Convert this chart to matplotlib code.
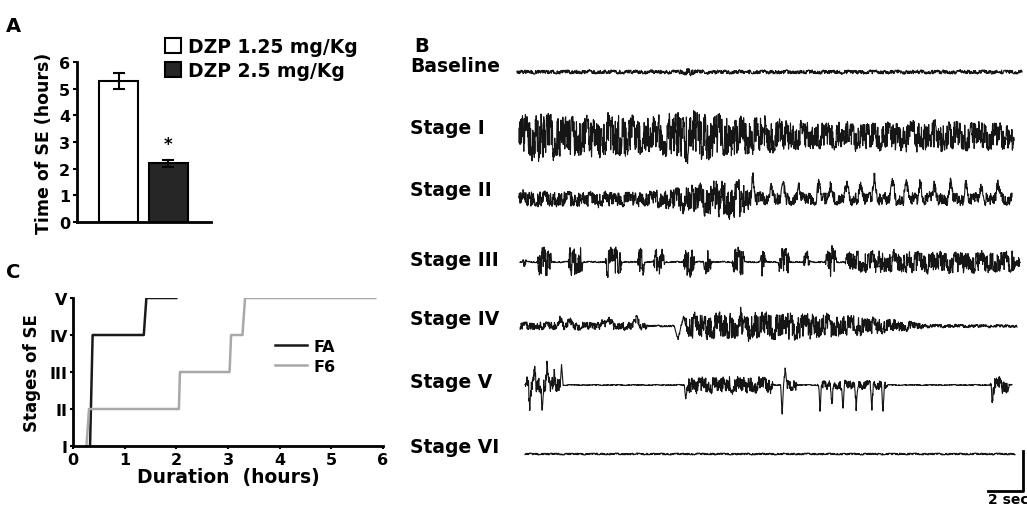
import numpy as np
import matplotlib.pyplot as plt

W, H = 1027, 506
plt.rcParams['font.family'] = ['DejaVu Sans']
plt.rcParams['font.weight'] = 'bold'
plt.rcParams['axes.labelweight'] = 'bold'

# ---------------- panel A : time of SE
groups = ['DZP 1.25 mg/Kg', 'DZP 2.5 mg/Kg']
se_time = [5.3, 2.2]
se_err = [0.3, 0.12]
bar_x = [0.31, 0.68]
bar_colors = ['white', '#262626']

# ---------------- panel C : stages over time
fa_t = [0.33, 0.38, 1.37, 1.42, 2.0]
fa_stage = [1, 4, 4, 5, 5]
f6_t = [0.26, 0.31, 2.05, 2.07, 3.03, 3.06, 3.28, 3.33, 5.85]
f6_stage = [1, 2, 2, 3, 3, 4, 4, 5, 5]
stage_names = ['I', 'II', 'III', 'IV', 'V']

# ---------------- panel B : EEG traces (positions in px, envelopes)
row_names = ['Baseline', 'Stage I', 'Stage II', 'Stage III', 'Stage IV', 'Stage V', 'Stage VI']
label_y = [66, 128, 191, 261, 320, 383, 448]
trace_y = [73, 137, 200, 263, 327, 386, 455]
trace_start = [517, 519, 519, 520, 520, 525, 525]
trace_end = [1022, 1014, 1012, 1020, 1017, 1012, 1015]

# envelope knots (fraction of trace, half amplitude px)
base_x = [0, 0.32, 0.34, 0.36, 1]
base_a = [2.2, 2.2, 4.5, 2.2, 2.2]
s1_x = [0, 0.04, 0.08, 0.15, 0.2, 0.25, 0.3, 0.32, 0.38, 0.42, 0.5, 0.55, 0.65, 0.75, 0.85, 0.95, 1]
s1_a = [22, 28, 24, 22, 25, 20, 22, 29, 27, 23, 20, 16, 15, 16, 17, 16, 14]
s2_x = [0, 0.25, 0.3, 0.35, 0.43, 0.45, 0.47, 0.5, 1]
s2_a = [9, 8, 11, 16, 22, 20, 10, 7, 7]
s4_x = [0, 0.25, 0.26, 0.31, 0.33, 0.34, 0.45, 0.56, 0.7, 0.79, 0.82, 1]
s4_a = [4.5, 4.5, 1, 1, 3, 14, 16, 15, 10, 5, 2, 1.5]
s6_x = [0, 1]
s6_a = [1.0, 1.0]

# bursts (start, end, half amplitude)
s3_bursts = [(0.004, 0.014, 6), (0.034, 0.064, 17), (0.096, 0.126, 17), (0.17, 0.204, 17),
             (0.234, 0.25, 16), (0.266, 0.29, 14), (0.326, 0.35, 17), (0.366, 0.384, 14),
             (0.424, 0.45, 17), (0.48, 0.494, 15), (0.516, 0.54, 16), (0.566, 0.58, 14),
             (0.61, 0.634, 17), (0.65, 1.0, 12)]
s5_bursts = [(0.0, 0.075, 9), (0.33, 0.51, 9), (0.53, 0.56, 6), (0.6, 0.745, 5), (0.955, 0.995, 9)]

# spikes (position, height px)
s2_spk = [(0.475, 23), (0.511, 16), (0.536, 14), (0.568, 12), (0.608, 16), (0.632, 15),
          (0.665, 14), (0.693, 17), (0.721, 26), (0.758, 18), (0.786, 15), (0.814, 17),
          (0.842, 15), (0.875, 16), (0.907, 15), (0.939, 14), (0.972, 16)]
s4_spk = [(0.08, 7), (0.1, 5), (0.167, 7), (0.18, 6), (0.235, 8), (0.318, -13), (0.33, 9)]
s5_spk = [(0.01, -22), (0.02, 15), (0.035, -20), (0.045, 18), (0.06, 10), (0.075, 21),
          (0.33, -14), (0.528, -30), (0.534, 14), (0.606, -25), (0.63, -23), (0.653, -25),
          (0.68, -23), (0.712, -25), (0.735, -27), (0.96, -17)]

FREQS = np.array([23, 41, 67, 97, 139, 181, 233, 283, 347, 409, 467, 541, 613, 701, 809, 907])


def carrier(t, k):
    # deterministic pseudo-EEG texture, roughly within +-1
    ph = (np.arange(len(FREQS)) ** 2 * 2.399 * (k + 1)) % (2 * np.pi)
    w = 1 / np.arange(1, len(FREQS) + 1) ** 0.3
    s = (w[:, None] * np.sin(2 * np.pi * FREQS[:, None] * t + ph[:, None])).sum(0)
    z = s / s.std()
    return 0.6 * np.tanh(z) + 0.4 * z / 3


def burst_env(t, bursts, base):
    env = np.full_like(t, base)
    for s, e, a in bursts:
        edge = np.clip(np.minimum(t - s, e - t) / 0.004, 0, 1)
        env = np.maximum(env, a * edge)
    return env


def spikes(t, spk, hw=0.003):
    out = np.zeros_like(t)
    for p, h in spk:
        out += h * np.clip(1 - np.abs(t - p) / hw, 0, None)
    return out


n = 4000
t = np.linspace(0, 1, n)
sig = [
    np.interp(t, base_x, base_a) * carrier(t, 0),
    np.interp(t, s1_x, s1_a) * carrier(t, 1),
    np.interp(t, s2_x, s2_a) * carrier(t, 2) + spikes(t, s2_spk, 0.006),
    burst_env(t, s3_bursts, 0.8) * carrier(t, 3),
    np.interp(t, s4_x, s4_a) * carrier(t, 4) + spikes(t, s4_spk, 0.008),
    burst_env(t, s5_bursts, 0.6) * carrier(t, 5) + spikes(t, s5_spk, 0.003),
    np.interp(t, s6_x, s6_a) * carrier(t, 6),
]

fig = plt.figure(figsize=(W / 100, H / 100), dpi=100)


def fx(x):
    return x / W


def fy(y):
    return 1 - y / H


# ---- A
axA = fig.add_axes([fx(77), fy(223), fx(211 - 77), (223 - 63) / H])
for i in range(2):
    axA.bar(bar_x[i], se_time[i], width=0.29, color=bar_colors[i], edgecolor='black',
            linewidth=1.5, label=groups[i], zorder=2)
    axA.errorbar(bar_x[i], se_time[i], yerr=se_err[i], color='black', capsize=4,
                 elinewidth=1.5, capthick=1.5, zorder=3)
axA.text(bar_x[1], se_time[1] + se_err[1] + 0.25, '*', ha='center', va='bottom', fontsize=12)
axA.set_xlim(0, 1)
axA.set_ylim(0, 6)
axA.set_yticks(range(7))
axA.set_xticks([])
axA.tick_params(axis='y', labelsize=11.5, length=3, width=1.5, pad=2)
for s in ['top', 'right']:
    axA.spines[s].set_visible(False)
for s in ['left', 'bottom']:
    axA.spines[s].set_linewidth(2)
axA.set_ylabel('Time of SE (hours)', fontsize=12.5, labelpad=4)
fig.legend(*axA.get_legend_handles_labels(), loc='upper left',
           bbox_to_anchor=(fx(165), fy(38)), frameon=False, fontsize=13.5,
           handlelength=0.85, handleheight=0.85, handletextpad=0.4, labelspacing=0.25,
           borderaxespad=0, borderpad=0)

# ---- C
axC = fig.add_axes([fx(73), fy(447), fx(383 - 73), (447 - 299) / H])
axC.plot(fa_t, fa_stage, color='#1a1a1a', lw=1.8, label='FA')
axC.plot(f6_t, f6_stage, color='#a8a8a8', lw=1.8, label='F6')
axC.set_xlim(0, 6)
axC.set_ylim(1, 5)
axC.set_yticks(range(1, 6))
axC.set_yticklabels(stage_names)
axC.set_xticks(range(7))
axC.tick_params(labelsize=11.5, length=2, width=1.5, pad=2)
for s in ['top', 'right']:
    axC.spines[s].set_visible(False)
for s in ['left', 'bottom']:
    axC.spines[s].set_linewidth(2)
axC.set_ylabel('Stages of SE', fontsize=12, labelpad=6)
axC.set_xlabel('Duration  (hours)', fontsize=13.5, labelpad=0)
axC.legend(loc='upper left', bbox_to_anchor=(fx(275), fy(340)), bbox_transform=fig.transFigure,
           frameon=False, fontsize=11.5, handlelength=2.0, handletextpad=0.4,
           labelspacing=0.3, borderaxespad=0, borderpad=0)

# ---- B
axB = fig.add_axes([fx(400), 0, fx(W - 400), 1 - 30 / H])
axB.set_xlim(400, W)
axB.set_ylim(H, 30)
axB.axis('off')
for i in range(len(row_names)):
    x = np.linspace(trace_start[i], trace_end[i], n)
    axB.plot(x, trace_y[i] - sig[i], color='#151515', lw=0.8)
    axB.text(410, label_y[i], row_names[i], fontsize=13.5, va='center', ha='left')
# scale bar
axB.plot([988, 1023, 1023], [492, 492, 452], color='black', lw=2, clip_on=False)
axB.text(988, 500, '2 sec', fontsize=10, va='center', ha='left', clip_on=False)

fig.text(fx(6), fy(26), 'A', fontsize=14, va='center')
fig.text(fx(414), fy(47), 'B', fontsize=14, va='center')
fig.text(fx(6), fy(273), 'C', fontsize=14, va='center')

fig.savefig('out.png', dpi=100)
